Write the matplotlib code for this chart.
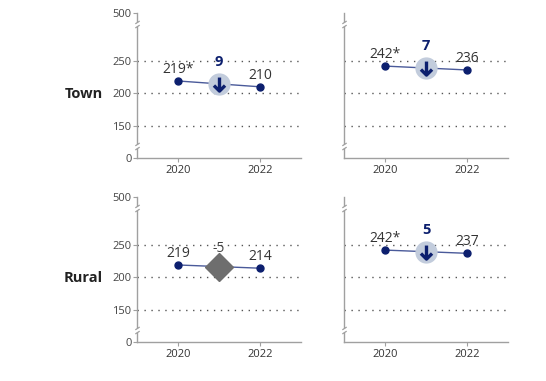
import numpy as np
import matplotlib.pyplot as plt
from matplotlib.path import Path

plt.rcParams['font.family'] = ['Open Sans', 'DejaVu Sans']

# data
years = [2020, 2022]
rows = ['Town', 'Rural']
left_vals = [[219, 210], [219, 214]]
left_labels = [['219*', '210'], ['219', '214']]
left_change = ['9', '-5']
left_sig = [True, False]
right_vals = [[242, 236], [242, 237]]
right_labels = [['242*', '236'], ['242*', '237']]
right_change = ['7', '5']
right_sig = [True, True]
yticks = [0, 150, 200, 250, 500]
grid_vals = [150, 200, 250]

NAVY = '#0c1f6e'
LINE = '#4a5a9a'
CIRCLE = '#c2ccdc'
GRAY = '#6e6e6e'
TXT = '#333333'
SPINE = '#a0a0a0'

# broken axis: 0-150 squeezed, 250-500 squeezed
src = [0, 150, 250, 500]
dst = [100, 150, 250, 324]


def fwd(v):
    return np.interp(v, src, dst)


def inv(v):
    return np.interp(v, dst, src)


brk = Path([(-1, -1.6), (1, -0.3), (-1, 0.3), (1, 1.6)],
           [Path.MOVETO, Path.LINETO, Path.MOVETO, Path.LINETO])

# down arrow: stem + chevron
arrow = Path([(0, 1), (0, -0.9), (-0.8, -0.15), (0, -0.95), (0.8, -0.15)],
             [Path.MOVETO, Path.LINETO, Path.MOVETO, Path.LINETO, Path.LINETO])


def draw_panel(ax, vals, labels, change, sig, show_y):
    ax.set_yscale('function', functions=(fwd, inv))
    ax.set_ylim(0, 500)
    ax.set_xlim(2019, 2023)
    for s in ['top', 'right']:
        ax.spines[s].set_visible(False)
    for s in ['left', 'bottom']:
        ax.spines[s].set_color(SPINE)
        ax.spines[s].set_linewidth(1)
    ax.set_xticks(years)
    ax.set_xticklabels([str(y) for y in years])
    ax.tick_params(axis='x', length=3, color=SPINE, labelsize=8,
                   labelcolor=TXT, pad=2)
    ax.set_yticks(yticks)
    ax.set_yticklabels([str(t) for t in yticks])
    ax.yaxis.set_minor_locator(plt.NullLocator())
    if show_y:
        ax.tick_params(axis='y', length=3, color=SPINE, labelsize=8,
                       labelcolor='#444444', pad=1)
    else:
        ax.tick_params(axis='y', length=0, labelleft=False)
    for g in grid_vals:
        ax.axhline(g, color='#555555', lw=1, ls=(0, (1, 4)), zorder=1)

    # axis breaks
    for b in [57, 442]:
        ax.plot([2019], [b], marker='s', ms=3, color='white', mec='none',
                clip_on=False, zorder=4)
        ax.plot([2019], [b], marker=brk, ms=5, mec=SPINE, mew=0.9,
                mfc='none', clip_on=False, zorder=5)

    ax.plot(years, vals, color=LINE, lw=1, zorder=2)
    ax.plot(years, vals, 'o', color=NAVY, ms=5, zorder=3)
    for x, v, lab in zip(years, vals, labels):
        ax.annotate(lab, (x, v), xytext=(0, 3), textcoords='offset points',
                    ha='center', va='bottom', fontsize=10, color=TXT)

    mid = np.mean(vals)
    if sig:
        ax.plot([2021], [mid], 'o', color=CIRCLE, ms=15, zorder=4)
        ax.plot([2021], [mid], marker=arrow, ms=10, mec=NAVY, mew=2.4,
                mfc='none', zorder=5)
        ax.annotate(change, (2021, mid), xytext=(0, 10.5),
                    textcoords='offset points', ha='center', va='bottom',
                    fontsize=10.5, fontweight='bold', color=NAVY)
    else:
        ax.plot([2021], [mid], 'D', color=GRAY, ms=14, zorder=4)
        ax.annotate(change, (2021, mid), xytext=(0, 7.5),
                    textcoords='offset points', ha='center', va='bottom',
                    fontsize=10, color='#444444')


fig = plt.figure(figsize=(5.46, 3.81), dpi=100)
lefts = [137 / 546, 344 / 546]
width = 164 / 546
bottoms = [1 - 158 / 381, 1 - 342 / 381]
height = 145 / 381

for r in range(2):
    axl = fig.add_axes([lefts[0], bottoms[r], width, height])
    draw_panel(axl, left_vals[r], left_labels[r], left_change[r],
               left_sig[r], True)
    axr = fig.add_axes([lefts[1], bottoms[r], width, height])
    draw_panel(axr, right_vals[r], right_labels[r], right_change[r],
               right_sig[r], False)
    fig.text(103 / 546, 1 - (94 + 184 * r) / 381, rows[r], ha='right',
             va='center', fontsize=10.5, fontweight='bold', color='#222222')

fig.savefig('out.png', dpi=100)
